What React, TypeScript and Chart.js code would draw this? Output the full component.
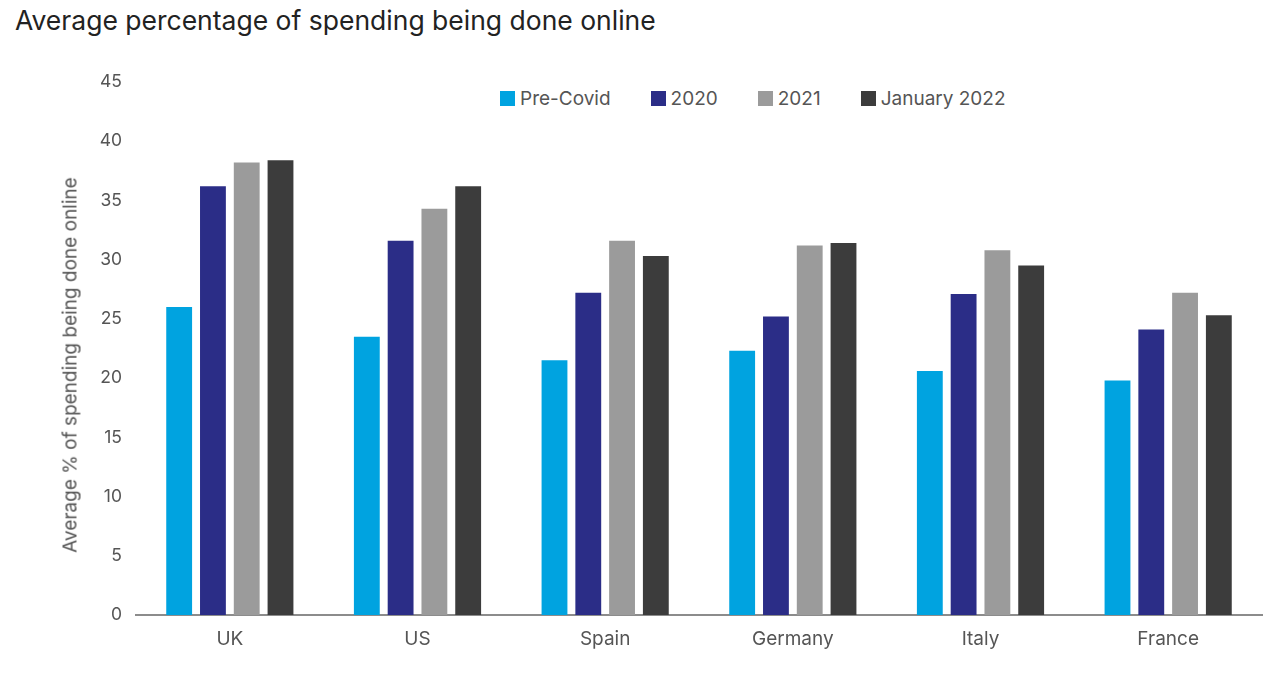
import React, { useEffect, useRef } from 'react';
import { Chart, registerables } from 'chart.js';

Chart.register(...registerables);

const countries = ['UK', 'US', 'Spain', 'Germany', 'Italy', 'France'];
const seriesNames = ['Pre-Covid', '2020', '2021', 'January 2022'];
const seriesColors = ['#00a3e0', '#2b2d87', '#9b9b9b', '#3c3c3c'];
const preCovid = [26.0, 23.5, 21.5, 22.3, 20.6, 19.8];
const y2020 = [36.2, 31.6, 27.2, 25.2, 27.1, 24.1];
const y2021 = [38.2, 34.3, 31.6, 31.2, 30.8, 27.2];
const jan2022 = [38.4, 36.2, 30.3, 31.4, 29.5, 25.3];
const yTicks = [0, 5, 10, 15, 20, 25, 30, 35, 40, 45];
const yTitle = 'Average % of spending being done online';

const FONT = 'Inter, "Open Sans", sans-serif';

export default function App() {
  const canvasRef = useRef<HTMLCanvasElement>(null);

  useEffect(() => {
    document.body.style.margin = '0';
    let chart: Chart | null = null;
    const ctx = canvasRef.current?.getContext('2d');
    if (ctx) {
      const values = [preCovid, y2020, y2021, jan2022];
      chart = new Chart(ctx, {
        type: 'bar',
        data: {
          labels: countries,
          datasets: seriesNames.map((name, i) => ({
            label: name,
            data: values[i],
            backgroundColor: seriesColors[i],
            borderWidth: 0,
            barPercentage: 0.765,
            categoryPercentage: 0.72,
          })),
        },
        options: {
          animation: false,
          responsive: false,
          maintainAspectRatio: false,
          layout: { padding: { left: 55, right: 18, top: 32, bottom: 40 } },
          plugins: { legend: { display: false }, tooltip: { enabled: false } },
          scales: {
            x: {
              grid: { display: false, drawTicks: false },
              border: { color: '#8c8c8c', width: 2 },
              ticks: { color: '#555', font: { family: FONT, size: 19 }, padding: 13 },
              afterFit: (s: any) => { s.height = 40; },
            },
            y: {
              min: 0,
              max: 45,
              grid: { display: false, drawTicks: false },
              border: { display: false },
              afterBuildTicks: (s: any) => { s.ticks = yTicks.map((v) => ({ value: v })); },
              ticks: { color: '#555', font: { family: FONT, size: 17.5 }, padding: 14 },
              afterFit: (s: any) => { s.width = 81; },
            },
          },
        },
      });
    }
    return () => { if (chart) chart.destroy(); };
  }, []);

  return (
    <div style={{ position: 'relative', width: 1280, height: 695, background: '#fff', fontFamily: FONT, overflow: 'hidden' }}>
      <div style={{ position: 'absolute', left: 15, top: 4, fontSize: 26.5, color: '#222' }}>
        Average percentage of spending being done online
      </div>
      <div style={{ position: 'absolute', left: 500, top: 87, display: 'flex', fontSize: 19, color: '#555' }}>
        {seriesNames.map((name, i) => (
          <div key={name} style={{ display: 'flex', alignItems: 'center', marginRight: 40 }}>
            <span style={{ width: 15, height: 15, background: seriesColors[i], marginRight: 5, display: 'inline-block' }} />
            {name}
          </div>
        ))}
      </div>
      <canvas ref={canvasRef} width={1280} height={645} style={{ position: 'absolute', left: 0, top: 50 }} />
      <div
        style={{
          position: 'absolute',
          left: 70,
          top: 365,
          transform: 'translate(-50%, -50%) rotate(-90deg)',
          whiteSpace: 'nowrap',
          fontSize: 19,
          color: '#555',
        }}
      >
        {yTitle}
      </div>
    </div>
  );
}
